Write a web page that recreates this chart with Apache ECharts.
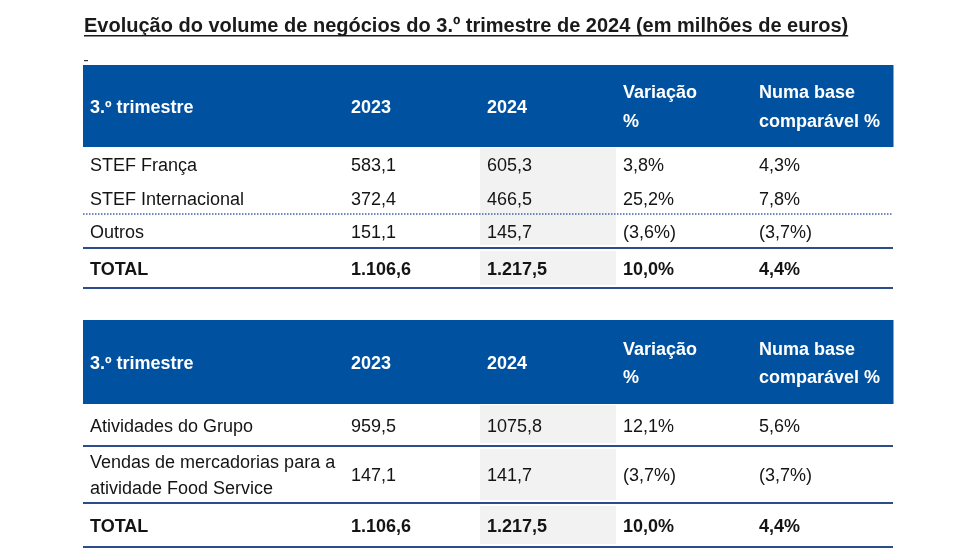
<!DOCTYPE html>
<html><head><meta charset="utf-8">
<script src="https://cdn.jsdelivr.net/npm/echarts@6/dist/echarts.min.js"></script>
<style>html,body{margin:0;padding:0;background:#fff}#c{width:980px;height:560px}</style>
</head><body><div id="c"></div>
<script>
// ---------- DATA ----------
const titleText = 'Evolução do volume de negócios do 3.º trimestre de 2024 (em milhões de euros)';
const headers = ['3.º trimestre', '2023', '2024', 'Variação\n%', 'Numa base\ncomparável %'];

const t1Labels = ['STEF França', 'STEF Internacional', 'Outros', 'TOTAL'];
const t1Values2023 = ['583,1', '372,4', '151,1', '1.106,6'];
const t1Values2024 = ['605,3', '466,5', '145,7', '1.217,5'];
const t1Variation = ['3,8%', '25,2%', '(3,6%)', '10,0%'];
const t1Comparable = ['4,3%', '7,8%', '(3,7%)', '4,4%'];

const t2Labels = ['Atividades do Grupo', 'Vendas de mercadorias para a\natividade Food Service', 'TOTAL'];
const t2Values2023 = ['959,5', '147,1', '1.106,6'];
const t2Values2024 = ['1075,8', '141,7', '1.217,5'];
const t2Variation = ['12,1%', '(3,7%)', '10,0%'];
const t2Comparable = ['5,6%', '(3,7%)', '4,4%'];

// ---------- LAYOUT / STYLE ----------
const FONT = '"Liberation Sans", Arial, sans-serif';
const BLUE = '#0051a0';
const RULE = '#2d4c8c';
const GRAY = '#f2f2f2';
const TEXT = '#141414';
const TABLE_LEFT = 83, TABLE_WIDTH = 810, PAD = 7, TEXT_DY = 2;
const COL_EDGES = [0, 261, 397, 533, 669, 810];

function buildRows(labels, a, b, c, d) {
  const rows = [headers.slice()];
  labels.forEach((l, i) => rows.push([l, a[i], b[i], c[i], d[i]]));
  return rows;
}
const tables = [
  { top: 65, edges: [0, 82, 117, 149, 183, 223], headerLH: 29,
    rows: buildRows(t1Labels, t1Values2023, t1Values2024, t1Variation, t1Comparable),
    rules: [{ at: 3, dotted: true }, { at: 4 }, { at: 5 }] },
  { top: 320, edges: [0, 84, 126, 183, 227], headerLH: 28,
    rows: buildRows(t2Labels, t2Values2023, t2Values2024, t2Variation, t2Comparable),
    rules: [{ at: 2 }, { at: 3 }, { at: 4 }] }
];

const grid = [], xAxis = [], yAxis = [], series = [];
tables.forEach((t, ti) => {
  const h = t.edges[t.edges.length - 1];
  grid.push({ left: TABLE_LEFT, top: t.top, width: TABLE_WIDTH, height: h });
  xAxis.push({ gridIndex: ti, type: 'value', min: 0, max: TABLE_WIDTH, show: false });
  yAxis.push({ gridIndex: ti, type: 'value', min: 0, max: h, inverse: true, show: false });
  const solidAt = new Set(t.rules.filter(r => !r.dotted).map(r => r.at));
  const cellData = [];
  t.rows.forEach((row, r) => row.forEach((txt, c) => cellData.push({ value: [c, r], text: txt })));
  series.push({
    type: 'custom', xAxisIndex: ti, yAxisIndex: ti, silent: true, z: 2,
    data: cellData,
    renderItem: function (params, api) {
      const c = api.value(0), r = api.value(1);
      const txt = cellData[params.dataIndex].text;
      const p0 = api.coord([COL_EDGES[c], t.edges[r]]);
      const p1 = api.coord([COL_EDGES[c + 1], t.edges[r + 1]]);
      const children = [];
      const isHeader = r === 0;
      const isTotal = t.rows[r][0] === 'TOTAL';
      if (isHeader) {
        children.push({ type: 'rect', shape: { x: p0[0], y: p0[1], width: p1[0] - p0[0] + 0.5, height: p1[1] - p0[1] }, style: { fill: BLUE } });
      } else if (c === 2) {
        const it = solidAt.has(r) ? 3 : (r === 1 ? 1 : 0);
        const ib = solidAt.has(r + 1) ? 3 : 0;
        children.push({ type: 'rect', shape: { x: p0[0], y: p0[1] + it, width: p1[0] - p0[0], height: p1[1] - p0[1] - it - ib }, style: { fill: GRAY } });
      }
      children.push({
        type: 'text', x: p0[0] + PAD, y: (p0[1] + p1[1]) / 2 + TEXT_DY,
        style: {
          text: txt, fill: isHeader ? '#ffffff' : TEXT,
          font: ((isHeader || isTotal) ? 'bold ' : '') + '18px ' + FONT,
          align: 'left', verticalAlign: 'middle',
          lineHeight: isHeader ? t.headerLH : 26
        }
      });
      return { type: 'group', children: children };
    }
  });
  series.push({
    type: 'custom', xAxisIndex: ti, yAxisIndex: ti, silent: true, z: 3,
    data: t.rules.map(rl => ({ value: [0, t.edges[rl.at]], dotted: !!rl.dotted })),
    renderItem: function (params, api) {
      const y = api.value(1);
      const dotted = t.rules[params.dataIndex].dotted;
      const a = api.coord([0, y]), b = api.coord([TABLE_WIDTH, y]);
      return { type: 'line', shape: { x1: a[0], y1: a[1], x2: b[0], y2: b[1] },
        style: dotted ? { stroke: '#3d64a8', lineWidth: 1.5, lineDash: [1.5, 1.5] } : { stroke: RULE, lineWidth: 2 } };
    }
  });
});

function measure(text, font) {
  const cv = document.createElement('canvas').getContext('2d');
  cv.font = font; return cv.measureText(text).width;
}
const titleFont = 'bold 20px ' + FONT;
const titleW = measure(titleText, titleFont);

const chart = echarts.init(document.getElementById('c'), null, { renderer: 'canvas' });
chart.setOption({
  animation: false,
  grid, xAxis, yAxis, series,
  graphic: [
    { type: 'text', left: 84, top: 16, style: { text: titleText, font: titleFont, fill: '#1a1a1a' } },
    { type: 'rect', left: 84, top: 35, shape: { width: titleW, height: 1.6 }, style: { fill: '#1a1a1a' } },
    { type: 'rect', left: 84, top: 60, shape: { width: 4, height: 1.2 }, style: { fill: '#333' } }
  ]
});
</script></body></html>
